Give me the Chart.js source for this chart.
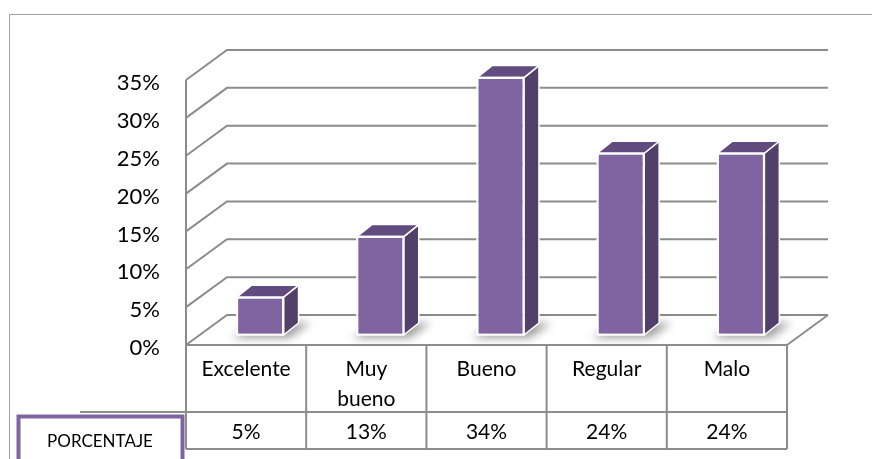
<!DOCTYPE html>
<html>
<head>
<meta charset="utf-8">
<script src="https://cdn.jsdelivr.net/npm/chart.js@4.4.1/dist/chart.umd.min.js"></script>
<style>
  html, body { margin: 0; padding: 0; background: #ffffff; }
  canvas { display: block; }
</style>
</head>
<body>
<canvas id="chart" width="872" height="459"></canvas>
<script>
const categories = ["Excelente", ["Muy", "bueno"], "Bueno", "Regular", "Malo"];
const values = [5, 13, 34, 24, 24];
const valueLabels = ["5%", "13%", "34%", "24%", "24%"];
const rowTitle = "PORCENTAJE";
const yMin = 0;
const yMax = 35;
const yStep = 5;

const FONT = "Lato, 'Noto Sans', sans-serif";
const GRID = "#8c8c8c";
// offsets of the front plane and the back wall relative to the bar plane
const FRONT = { dx: -14, dy: 10 };
const BACK = { dx: 27, dy: -20 };
const BAR_DEPTH = { dx: 15, dy: -12 };

function line(ctx, pts) {
  ctx.beginPath();
  ctx.moveTo(pts[0][0], pts[0][1]);
  for (let i = 1; i < pts.length; i++) ctx.lineTo(pts[i][0], pts[i][1]);
  ctx.stroke();
}

function poly(ctx, pts, fill, stroke) {
  ctx.beginPath();
  ctx.moveTo(pts[0][0], pts[0][1]);
  for (let i = 1; i < pts.length; i++) ctx.lineTo(pts[i][0], pts[i][1]);
  ctx.closePath();
  ctx.fillStyle = fill;
  ctx.fill();
  if (stroke) {
    ctx.strokeStyle = stroke;
    ctx.lineWidth = 1.5;
    ctx.lineJoin = "round";
    ctx.stroke();
  }
}

const walls = {
  id: "walls",
  beforeDatasetsDraw(chart) {
    const { ctx, chartArea: a, scales: { y } } = chart;
    ctx.save();
    // outer frame
    ctx.strokeStyle = "#a0a0a0";
    ctx.lineWidth = 1;
    ctx.strokeRect(9.5, 14.5, 1000, 1000);

    ctx.strokeStyle = GRID;
    ctx.lineWidth = 2;
    for (let v = yMin; v <= yMax; v += yStep) {
      const py = y.getPixelForValue(v);
      line(ctx, [
        [a.left + FRONT.dx, py + FRONT.dy],
        [a.left + BACK.dx, py + BACK.dy],
        [a.right + BACK.dx, py + BACK.dy]
      ]);
    }
    const y0 = y.getPixelForValue(yMin);
    const yTop = y.getPixelForValue(yMax);
    line(ctx, [[a.left + FRONT.dx, yTop + FRONT.dy], [a.left + FRONT.dx, y0 + FRONT.dy]]);
    line(ctx, [[a.right + FRONT.dx, y0 + FRONT.dy], [a.right + BACK.dx, y0 + BACK.dy]]);

    // soft shadows under the bars
    const meta = chart.getDatasetMeta(0);
    ctx.filter = "blur(4px)";
    ctx.fillStyle = "rgba(0,0,0,0.38)";
    meta.data.forEach(bar => {
      const l = bar.x - bar.width / 2, r = bar.x + bar.width / 2, b = bar.base;
      ctx.beginPath();
      ctx.moveTo(l - 4, b + 3);
      ctx.lineTo(r + 6, b + 3);
      ctx.lineTo(r + BAR_DEPTH.dx + 12, b + BAR_DEPTH.dy);
      ctx.lineTo(l + BAR_DEPTH.dx, b + BAR_DEPTH.dy);
      ctx.closePath();
      ctx.fill();
    });
    ctx.filter = "none";
    ctx.restore();
  },
  afterDatasetsDraw(chart) {
    const { ctx } = chart;
    const meta = chart.getDatasetMeta(0);
    ctx.save();
    meta.data.forEach(bar => {
      const l = bar.x - bar.width / 2, r = bar.x + bar.width / 2;
      const t = bar.y, b = bar.base;
      const dx = BAR_DEPTH.dx, dy = BAR_DEPTH.dy;
      poly(ctx, [[r, t], [r + dx, t + dy], [r + dx, b + dy], [r, b]], "#523f6a", "#ffffff");
      poly(ctx, [[l, t], [l + dx, t + dy], [r + dx, t + dy], [r, t]], "#614b7f", "#ffffff");
      ctx.strokeStyle = "#ffffff";
      ctx.lineWidth = 1.5;
      ctx.strokeRect(l, t, r - l, b - t);
    });
    ctx.restore();
  },
  afterDraw(chart) {
    const { ctx, chartArea: a, scales: { x, y } } = chart;
    const y0 = y.getPixelForValue(yMin) + FRONT.dy;
    const left = a.left + FRONT.dx, right = a.right + FRONT.dx;
    const rowMid = y0 + 67, rowEnd = y0 + 104;
    const catW = (a.right - a.left) / categories.length;
    ctx.save();
    ctx.strokeStyle = GRID;
    ctx.lineWidth = 2;
    line(ctx, [[left, y0], [right, y0]]);
    line(ctx, [[80, rowMid], [right, rowMid]]);
    line(ctx, [[left, rowEnd], [right, rowEnd]]);
    for (let i = 0; i <= categories.length; i++) {
      const px = left + i * catW;
      line(ctx, [[px, y0], [px, rowEnd]]);
    }
    ctx.fillStyle = "#000000";
    ctx.textAlign = "center";
    ctx.textBaseline = "middle";
    ctx.font = "21px " + FONT;
    categories.forEach((c, i) => {
      const cx = x.getPixelForValue(i) + FRONT.dx;
      const lines = Array.isArray(c) ? c : [c];
      lines.forEach((s, j) => ctx.fillText(s, cx, y0 + 24 + j * 30));
      ctx.fillText(valueLabels[i], cx, y0 + 87);
    });

    // row title box
    ctx.fillStyle = "#ffffff";
    ctx.fillRect(18, 416, 164, 60);
    ctx.strokeStyle = "#8064a2";
    ctx.lineWidth = 4;
    ctx.strokeRect(18.5, 416.5, 164, 60);
    ctx.fillStyle = "#000000";
    ctx.font = "17px " + FONT;
    ctx.fillText(rowTitle, 100, 442);
    ctx.restore();
  }
};

new Chart(document.getElementById("chart"), {
  type: "bar",
  data: {
    labels: categories,
    datasets: [{
      data: values,
      backgroundColor: "#8064a2",
      borderColor: "#ffffff",
      borderWidth: 1.5,
      borderSkipped: false,
      categoryPercentage: 1,
      barPercentage: 0.39
    }]
  },
  options: {
    responsive: false,
    devicePixelRatio: 1,
    animation: false,
    layout: { padding: { left: 0, right: 71, top: 70, bottom: 124 } },
    plugins: { legend: { display: false }, tooltip: { enabled: false } },
    scales: {
      x: { display: false },
      y: {
        min: yMin,
        max: yMax,
        afterFit: s => { s.width = 200; },
        grid: { display: false, drawTicks: false },
        border: { display: false },
        ticks: {
          stepSize: yStep,
          padding: 40,
          labelOffset: 13,
          color: "#000000",
          font: { family: FONT, size: 22 },
          callback: v => v + "%"
        }
      }
    }
  },
  plugins: [walls]
});
</script>
</body>
</html>
